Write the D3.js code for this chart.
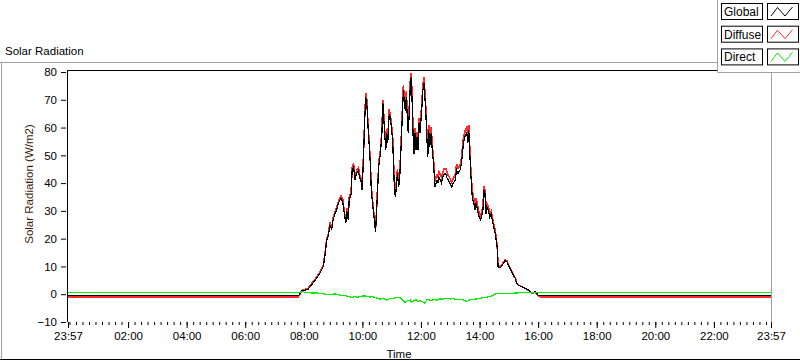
<!DOCTYPE html>
<html>
<head>
<meta charset="utf-8">
<script src="https://cdn.jsdelivr.net/npm/d3@7"></script>
<style>
  body { margin: 0; background: #fff; }
  svg text { font-family: "Liberation Sans", Arial, sans-serif; }
</style>
</head>
<body>
<div id="vis-svg"></div>
<script>
var width = 800;
var height = 361;

// series (W/m2), Global + Diffuse share the same time stamps
var times = ["23:57", "07:42", "07:49", "07:56", "08:09", "08:23", "08:33", "08:40", "08:43", "08:47",
  "08:50", "08:54", "08:57", "09:00", "09:04", "09:07", "09:11", "09:16", "09:20", "09:23",
  "09:26", "09:28", "09:31", "09:33", "09:37", "09:39", "09:42", "09:45", "09:48", "09:52",
  "09:54", "09:57", "09:59", "10:01", "10:03", "10:05", "10:07", "10:09", "10:12", "10:16",
  "10:18", "10:20", "10:23", "10:26", "10:27", "10:29", "10:31", "10:34", "10:37", "10:40",
  "10:42", "10:44", "10:46", "10:48", "10:50", "10:52", "10:55", "10:57", "11:00", "11:02",
  "11:04", "11:06", "11:08", "11:10", "11:12", "11:14", "11:16", "11:19", "11:22", "11:24",
  "11:26", "11:28", "11:30", "11:32", "11:34", "11:36", "11:38", "11:40", "11:42", "11:44",
  "11:46", "11:48", "11:50", "11:52", "11:54", "11:56", "11:58", "12:00", "12:02", "12:04",
  "12:06", "12:08", "12:10", "12:12", "12:14", "12:16", "12:18", "12:21", "12:23", "12:25",
  "12:27", "12:29", "12:31", "12:33", "12:35", "12:37", "12:40", "12:42", "12:45", "12:48",
  "12:51", "12:53", "12:56", "12:59", "13:03", "13:06", "13:10", "13:13", "13:16", "13:20",
  "13:23", "13:27", "13:30", "13:34", "13:36", "13:38", "13:40", "13:42", "13:45", "13:48",
  "13:51", "13:53", "13:56", "13:59", "14:02", "14:04", "14:07", "14:09", "14:11", "14:13",
  "14:15", "14:18", "14:21", "14:24", "14:26", "14:29", "14:32", "14:34", "14:36", "14:38",
  "14:42", "14:45", "14:49", "14:52", "14:56", "14:59", "15:02", "15:06", "15:09", "15:13",
  "15:16", "15:19", "15:26", "15:33", "15:40", "15:47", "15:54", "16:00", "16:05", "23:57"];

var globalVals = [-0.6, -0.6, -0.6, 1.2, 1.8, 5.0, 7.6, 10, 13.5, 19.5,
  21, 25, 23, 26.7, 29, 30.3, 32.8, 34.6, 33, 29,
  25.6, 30, 26.7, 34, 36, 44.6, 45.8, 41, 43.5, 44.6,
  42, 41, 37.5, 43.5, 53, 63.7, 71, 68.8, 59, 48,
  38.6, 34, 29, 24, 22.4, 29, 37.5, 47, 50.6, 58,
  68.7, 62.7, 56.7, 52, 58, 54.4, 65, 63.7, 59, 55.5,
  45.8, 36.3, 35, 40, 43.5, 38.6, 40, 52, 65, 73.5,
  68.8, 66, 71, 63.8, 58, 65, 74.7, 78.3, 68.8, 56.6,
  50.6, 58, 52, 56.6, 52, 61.5, 58, 62.6, 67.4, 73.5,
  76, 71, 65, 56.6, 49.5, 59, 53, 58, 52, 48.3,
  43.5, 38.6, 40, 41, 40, 42.2, 41, 40, 42.2, 43.5,
  43.5, 42, 41, 40, 38.6, 40, 41, 44.7, 43.5, 44.7,
  47, 54.4, 56.6, 58, 54.4, 59, 50.6, 43.5, 35, 32.8,
  30.3, 32.8, 30.3, 27.8, 26.7, 27.8, 30.3, 37.5, 36.3, 29,
  31.4, 30.3, 27.8, 29, 26.7, 24.2, 22, 19.5, 17, 10,
  9.4, 10, 11.2, 12, 11.7, 10.5, 9.4, 8, 6.9, 5.8,
  4, 3.3, 2.7, 2.2, 1.5, 0.5, 0.9, -0.3, -0.6, -0.6];

var diffuseVals = [-0.9, -0.9, -0.9, 1.3, 2.2, 5.4, 8.0, 10.5, 14, 20,
  21.5, 26, 23.5, 27.5, 29.8, 31, 33.5, 35.5, 34, 29.8,
  26.3, 31, 27.3, 35, 37, 45.5, 47, 42, 44.5, 45.5,
  43, 42, 38.3, 44.5, 54, 64.7, 72.3, 70, 60, 49,
  39.5, 35, 30, 25, 23.3, 30, 38.5, 48, 51.8, 59.3,
  70, 64, 58, 53.5, 59.5, 56, 66.5, 65, 60.5, 57,
  47.3, 37.8, 36.5, 41.5, 45, 40, 41.5, 53.5, 66.7, 75.2,
  70.5, 67.8, 73, 65.5, 59.8, 67, 76.5, 79.5, 71, 58.5,
  52.5, 60, 54, 58.5, 54, 63.5, 60, 64.5, 69.5, 75.5,
  78, 73, 67, 58.5, 51.5, 61, 55, 60, 54, 50,
  45.5, 40.5, 42, 43, 42, 44, 43, 42, 44, 45.3,
  45.3, 44, 42.8, 41.8, 40.3, 41.7, 42.8, 46.8, 45.3, 46.5,
  49, 56.5, 58.5, 60.5, 56.5, 61, 52.5, 45.5, 37, 34.8,
  32, 34.5, 32, 29.5, 28.2, 29.3, 31.8, 38.8, 37.5, 30.3,
  32.6, 31.5, 29, 30, 27.7, 25.2, 23, 20.3, 17.8, 10.6,
  9.8, 10.3, 11.5, 12.3, 12, 10.8, 9.6, 8.2, 7.1, 6,
  4.1, 3.4, 2.8, 2.2, 1.4, 0.4, 0.7, -0.6, -0.9, -0.9];

var directTimes = ["23:57", "07:52", "07:58", "08:05", "08:12", "08:19", "08:26", "08:33", "08:39", "08:46",
  "08:54", "09:01", "09:08", "09:14", "09:20", "09:27", "09:33", "09:39", "09:45", "09:50",
  "09:55", "10:02", "10:09", "10:15", "10:22", "10:29", "10:36", "10:43", "10:50", "10:56",
  "11:03", "11:10", "11:17", "11:22", "11:27", "11:32", "11:38", "11:41", "11:44", "11:50",
  "11:54", "11:58", "12:03", "12:08", "12:11", "12:14", "12:20", "12:27", "12:33", "12:39",
  "12:45", "12:52", "13:00", "13:06", "13:13", "13:20", "13:27", "13:34", "13:40", "13:47",
  "13:54", "14:01", "14:08", "14:15", "14:22", "14:29", "14:36", "14:46", "14:56", "15:10",
  "15:23", "15:36", "15:50", "23:57"];
var directVals = [0.7, 0.7, 0.9, 0.6, 0.5, 0.4, 0.5, 0.2, 0.2, -0.1,
  -0.2, 0.1, 0.0, -0.3, -0.4, -0.6, -0.9, -1.1, -0.8, -1.1,
  -0.9, -0.6, -0.7, -1.0, -0.9, -1.4, -1.8, -1.5, -2.1, -1.6,
  -1.5, -1.2, -1.1, -2.0, -3.0, -2.4, -2.1, -2.9, -2.5, -1.9,
  -2.6, -2.3, -2.7, -3.3, -2.2, -1.8, -2.3, -1.8, -2.1, -1.7,
  -1.8, -1.5, -1.7, -1.6, -1.9, -1.8, -2.1, -2.7, -2.0, -1.8,
  -1.7, -1.5, -1.2, -1.1, -0.8, -0.2, 0.3, 0.2, 0.3, 0.4,
  0.5, 0.6, 0.7, 0.7];

var yTicks = [-10, 0, 10, 20, 30, 40, 50, 60, 70, 80];
var xTickLabels = ["23:57", "02:00", "04:00", "06:00", "08:00", "10:00", "12:00",
  "14:00", "16:00", "18:00", "20:00", "22:00", "23:57"];
var seriesNames = ["Global", "Diffuse", "Direct"];
var seriesColors = ["#000000", "#ff2a2a", "#00ee00"];

// "HH:MM" list -> dates, rolling over to the next day when the clock goes back
function toDates(list) {
  var day = 1, prev = -1;
  return list.map(function(s) {
    var p = s.split(":");
    var m = +p[0] * 60 + +p[1];
    if (m < prev) day++;
    prev = m;
    return new Date(2000, 0, day, +p[0], +p[1]);
  });
}

var tDates = toDates(times);
var dDates = toDates(directTimes);
var tickDates = toDates(xTickLabels);

var svg = d3
  .select("#vis-svg")
  .append("svg")
  .attr("width", width)
  .attr("height", height);

var x = d3
  .scaleTime()
  .domain([tickDates[0], tickDates[tickDates.length - 1]])
  .range([68, 771]);

var y = d3.scaleLinear().domain([-10, 80]).range([322, 72]);

// outer frame
svg.append("line").attr("x1", 0).attr("x2", 800).attr("y1", 62.5).attr("y2", 62.5)
  .attr("stroke", "#a0a0a0");
svg.append("line").attr("x1", 1.5).attr("x2", 1.5).attr("y1", 62).attr("y2", 360)
  .attr("stroke", "#a0a0a0");
svg.append("line").attr("x1", 0).attr("x2", 800).attr("y1", 359.5).attr("y2", 359.5)
  .attr("stroke", "#000");

svg.append("text")
  .attr("x", 5)
  .attr("y", 55)
  .attr("font-size", "11.5px")
  .attr("fill", "#000")
  .text("Solar Radiation");

// plot frame (top black, right grey)
var frame = svg.append("g").attr("class", "frame");
frame.append("line").attr("x1", 67.5).attr("x2", 772).attr("y1", 70.5).attr("y2", 70.5)
  .attr("stroke", "#000");
frame.append("line").attr("x1", 771.5).attr("x2", 771.5).attr("y1", 70).attr("y2", 323)
  .attr("stroke", "#a0a0a0");

// data lines
var line = d3
  .line()
  .x(function(d) { return x(d.t); })
  .y(function(d) { return y(d.v); });

var series = [
  { name: "Diffuse", color: seriesColors[1], pts: tDates.map(function(t, i) { return { t: t, v: diffuseVals[i] }; }) },
  { name: "Global", color: seriesColors[0], pts: tDates.map(function(t, i) { return { t: t, v: globalVals[i] }; }) },
  { name: "Direct", color: seriesColors[2], pts: dDates.map(function(t, i) { return { t: t, v: directVals[i] }; }) }
];

svg.append("g")
  .attr("class", "lines")
  .selectAll("path")
  .data(series)
  .enter()
  .append("path")
  .attr("d", function(d) { return line(d.pts); })
  .attr("fill", "none")
  .attr("stroke", function(d) { return d.color; })
  .attr("stroke-width", function(d) { return d.name === "Diffuse" ? 1.6 : 1.2; })
  .attr("shape-rendering", "crispEdges");

// y axis
var yAxis = svg.append("g")
  .attr("transform", "translate(67,0)")
  .call(d3.axisLeft(y).tickValues(yTicks).tickSize(5).tickPadding(5));
yAxis.select(".domain").attr("d", "M0.5,70V322").attr("stroke", "#000");
yAxis.selectAll("text").attr("font-size", "11.5px").attr("fill", "#000")
  .attr("font-family", "Liberation Sans, Arial, sans-serif");
yAxis.selectAll("line").attr("x1", -1).attr("x2", -6);

// x axis: minor ticks every 2h/9, majors every 2h
var dayStart = new Date(2000, 0, 2, 0, 0);
var minorDates = d3.range(0, 9 * 12).map(function(i) {
  return new Date(dayStart.getTime() + i * 800000);
});

var xMinor = svg.append("g")
  .attr("transform", "translate(0,322)")
  .call(d3.axisBottom(x).tickValues(minorDates).tickSize(3).tickFormat(""));
xMinor.select(".domain").remove();

var xAxis = svg.append("g")
  .attr("transform", "translate(0,322)")
  .call(d3.axisBottom(x).tickValues(tickDates).tickSize(6).tickPadding(4)
    .tickFormat(function(d, i) { return xTickLabels[i]; }));
xAxis.select(".domain").remove();
xAxis.selectAll("text").attr("font-size", "11.5px").attr("fill", "#000")
  .attr("font-family", "Liberation Sans, Arial, sans-serif");

svg.append("text")
  .attr("x", 399)
  .attr("y", 358)
  .attr("text-anchor", "middle")
  .attr("font-size", "11.5px")
  .attr("fill", "#000")
  .text("Time");

svg.append("text")
  .attr("transform", "translate(33,184) rotate(-90)")
  .attr("text-anchor", "middle")
  .attr("font-size", "11.5px")
  .attr("fill", "#3b1c0c")
  .text("Solar Radiation (W/m2)");

// legend
var legend = svg.append("g").attr("class", "legend");
legend.append("rect").attr("x", 717).attr("y", 0).attr("width", 83).attr("height", 72)
  .attr("fill", "#fff");
legend.append("path").attr("d", "M717.5,0V72.5H800").attr("fill", "none").attr("stroke", "#a0a0a0");

var rows = legend.selectAll("g.row")
  .data(seriesNames)
  .enter()
  .append("g")
  .attr("class", "row")
  .attr("transform", function(d, i) { return "translate(0," + (i * 22.7) + ")"; });

rows.append("rect").attr("x", 721.5).attr("y", 3.5).attr("width", 41).attr("height", 16)
  .attr("fill", "#fff").attr("stroke", "#000");
rows.append("text").attr("x", 724).attr("y", 16).attr("font-size", "12px").attr("fill", "#000")
  .text(function(d) { return d; });
rows.append("rect").attr("x", 767.5).attr("y", 3.5).attr("width", 31).attr("height", 16)
  .attr("fill", "#fff").attr("stroke", "#000");
rows.append("path")
  .attr("d", "M771,16L777.5,7.5L785,16L792.5,7")
  .attr("fill", "none")
  .attr("stroke", function(d, i) { return seriesColors[i]; });
</script>
</body>
</html>
